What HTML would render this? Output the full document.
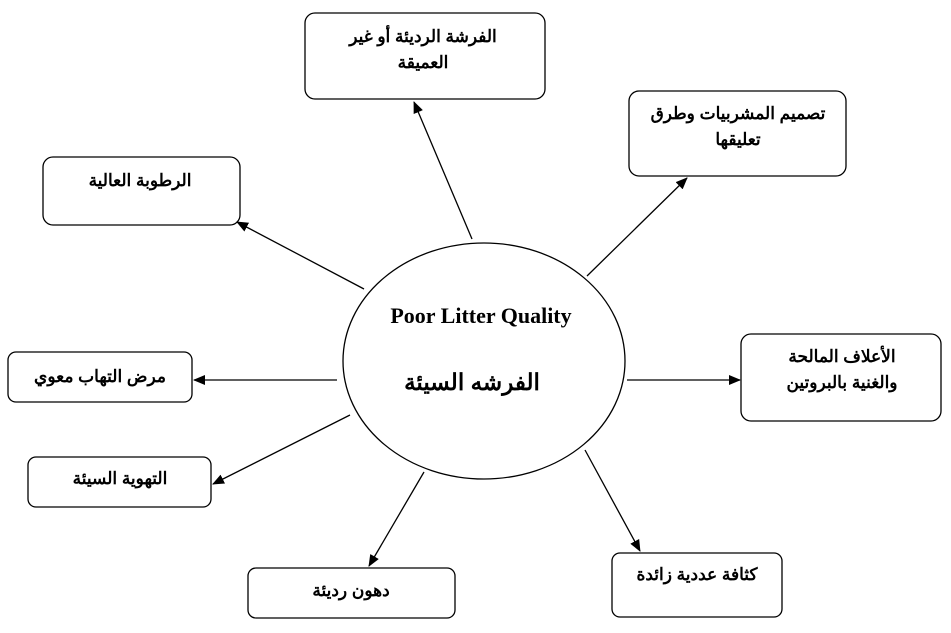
<!DOCTYPE html>
<html><head><meta charset="utf-8"><style>
body{margin:0;background:#fff;width:951px;height:628px;overflow:hidden}
</style></head><body>
<svg width="951" height="628" xmlns="http://www.w3.org/2000/svg">
<defs><marker id="a" markerWidth="12" markerHeight="10" refX="11" refY="5" orient="auto" markerUnits="userSpaceOnUse"><path d="M0,0 L12,5 L0,10 z" fill="#000"/></marker></defs>
<g fill="none" stroke="#000" stroke-width="1.3">
<rect x="305" y="13" width="240" height="86" rx="10"/>
<rect x="629" y="91" width="217" height="85" rx="10"/>
<rect x="43" y="157" width="197" height="68" rx="10"/>
<rect x="741" y="334" width="200" height="87" rx="10"/>
<rect x="8" y="352" width="184" height="50" rx="8"/>
<rect x="28" y="457" width="183" height="50" rx="8"/>
<rect x="248" y="568" width="207" height="50" rx="8"/>
<rect x="612" y="553" width="170" height="64" rx="8"/>
<ellipse cx="484" cy="361" rx="141" ry="118"/>
<g marker-end="url(#a)">
<line x1="472" y1="239" x2="414" y2="102"/>
<line x1="587" y1="276" x2="687" y2="178"/>
<line x1="364" y1="289" x2="237" y2="222"/>
<line x1="337" y1="380" x2="194" y2="380"/>
<line x1="350" y1="415" x2="213" y2="484"/>
<line x1="424" y1="472" x2="369" y2="566"/>
<line x1="585" y1="450" x2="640" y2="551"/>
<line x1="627" y1="380" x2="740" y2="380"/>
</g></g>
<g font-family="'Liberation Sans','Noto Sans CJK SC',sans-serif" font-weight="bold" font-size="17" text-anchor="middle" direction="rtl">
<text x="423" y="42">الفرشة الرديئة أو غير</text>
<text x="423" y="68">العميقة</text>
<text x="738" y="119">تصميم المشربيات وطرق</text>
<text x="738" y="145">تعليقها</text>
<text x="140" y="186">الرطوبة العالية</text>
<text x="842" y="362">الأعلاف المالحة</text>
<text x="842" y="388">والغنية بالبروتين</text>
<text x="100" y="382">مرض التهاب معوي</text>
<text x="120" y="484">التهوية السيئة</text>
<text x="351" y="596">دهون رديئة</text>
<text x="697" y="580">كثافة عددية زائدة</text>
<text x="472" y="390" font-size="23">الفرشه السيئة</text>
</g>
<text x="481" y="323" font-family="'Liberation Serif',serif" font-weight="bold" font-size="22" text-anchor="middle">Poor Litter Quality</text>
</svg>
</body></html>
